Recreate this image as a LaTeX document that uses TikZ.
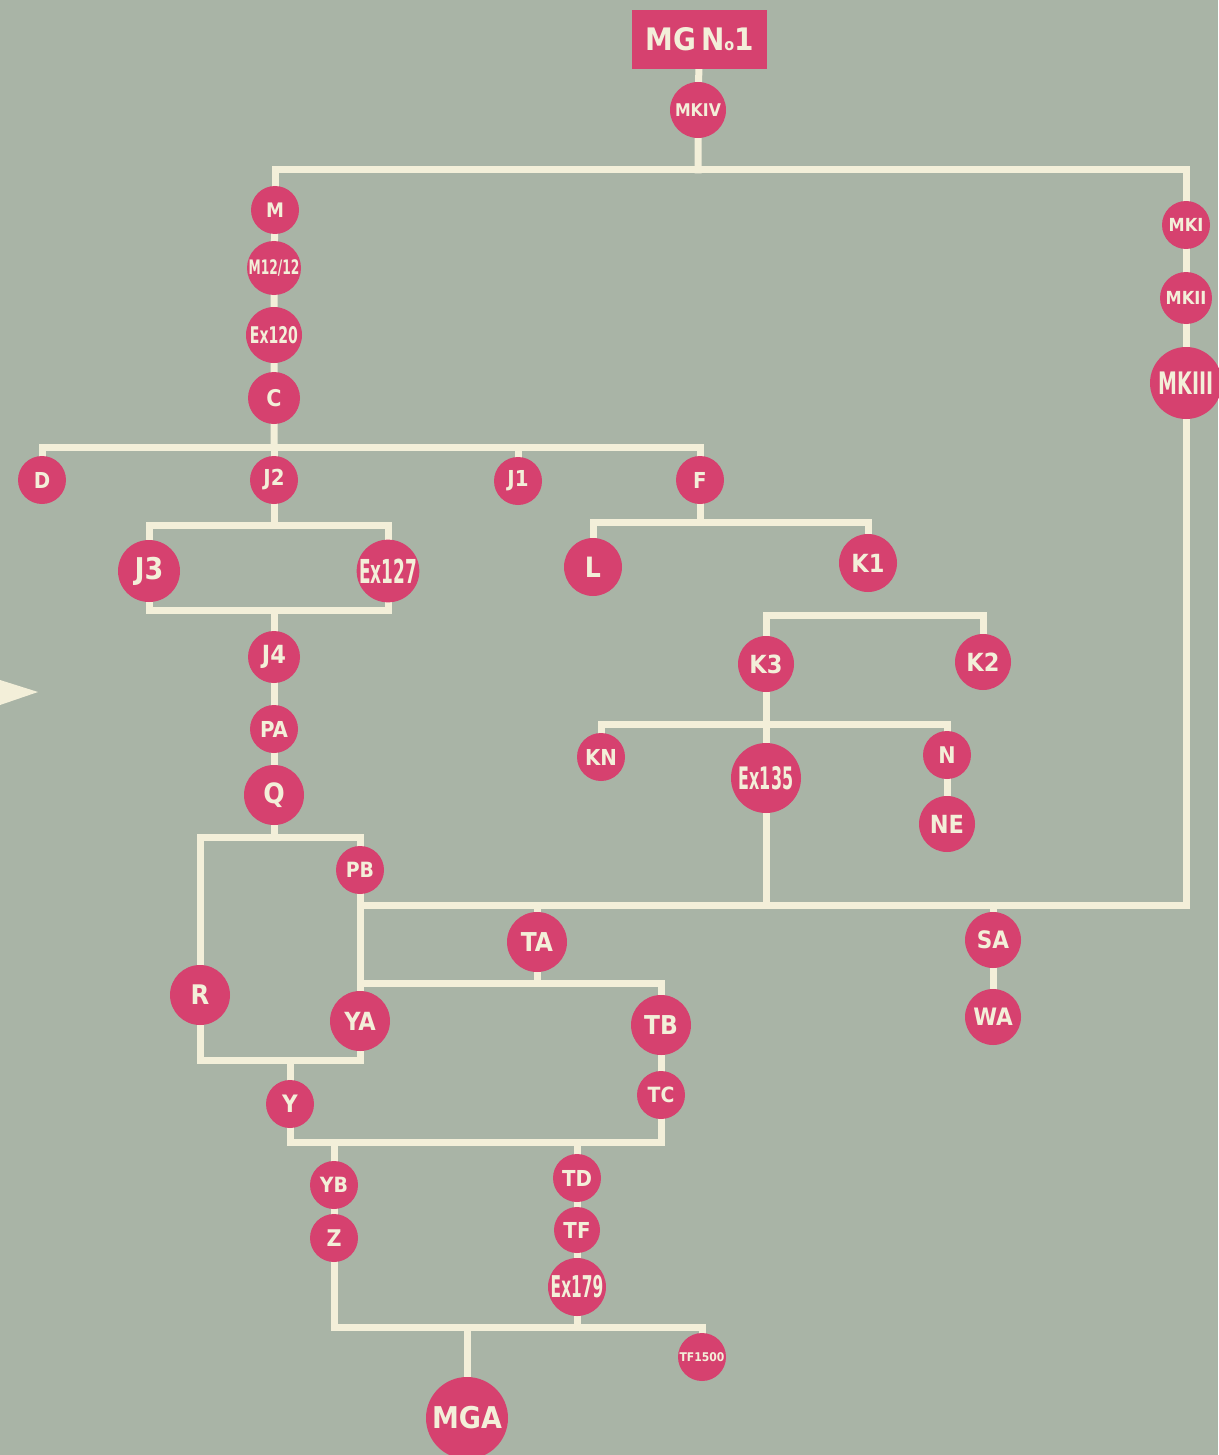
\documentclass[tikz,border=0pt]{standalone}
\usepackage{fontspec}
\newfontfamily\lbl{DejaVu Sans Condensed}[BoldFont={DejaVu Sans Condensed Bold}]
\newfontfamily\lblb{DejaVu Sans Condensed}[BoldFont={DejaVu Sans Condensed Bold}, BoldFeatures={FakeStretch=0.68}]
\newfontfamily\lblc{DejaVu Sans Condensed}[BoldFont={DejaVu Sans Condensed Bold}, BoldFeatures={FakeStretch=0.57}]
\newcommand\fz[1]{\fontsize{#1}{#1}\selectfont}
\definecolor{bgc}{HTML}{A9B4A6}
\definecolor{pinkc}{HTML}{D6416F}
\definecolor{creamc}{HTML}{F3EFD9}
\pgfdeclarelayer{bgfill}
\pgfdeclarelayer{wires}
\pgfsetlayers{bgfill,wires,main}
\begin{document}
\begin{tikzpicture}[x=1pt,y=-1pt,
  wire/.style={draw=creamc, line width=7pt, line join=miter, line cap=rect},
  nd/.style={circle, fill=pinkc, text=creamc, inner sep=0pt, minimum size=#1},
  nd/.default=48,
  tn/.style={font=\lbl\bfseries\fz{#1}},
  tb/.style={font=\lblb\bfseries\fz{#1}},
  tx/.style={font=\lblc\bfseries\fz{#1}}]
\useasboundingbox (0,0) rectangle (1218,1455);
\begin{pgfonlayer}{bgfill}
\fill[bgc] (0,0) rectangle (1218,1455);
\fill[creamc] (0,680) -- (38,692) -- (0,705) -- cycle;
\end{pgfonlayer}
% nodes
\node[rectangle, fill=pinkc, text=creamc, minimum width=135, minimum height=59, inner sep=0pt, tn=31] (mg) at (699.5,39.5) {MG\,N{\fz{16}o}1};
\node[nd=56, tn=17.5] (mkiv) at (698,110) {MKIV};
\node[nd=48, tn=20] (m) at (275,210) {M};
\node[nd=54, tb=20] (m12) at (274,268) {M12/12};
\node[nd=56, tb=23] (ex120) at (274,335) {Ex120};
\node[nd=52, tn=23] (c) at (274,398) {C};
\node[nd=48, tn=22] (d) at (42,480) {D};
\node[nd=48, tn=22] (j2) at (274,480) {J2};
\node[nd=48, tn=22] (ja) at (518,481) {J1};
\node[nd=48, tn=22] (f) at (700,480) {F};
\node[nd=62, tn=30] (j3) at (149,571) {J3};
\node[nd=62, tx=33] (ex127) at (388,571) {Ex127};
\node[nd=52, tn=25] (j4) at (274,657) {J4};
\node[nd=48, tn=22] (pa) at (274,729) {PA};
\node[nd=60, tn=28] (q) at (274,795) {Q};
\node[nd=48, tn=21] (pb) at (360,870) {PB};
\node[nd=60, tn=27] (r) at (200,995) {R};
\node[nd=60, tn=25] (ya) at (360,1021) {YA};
\node[nd=60, tn=26] (ta) at (537,942) {TA};
\node[nd=60, tn=26] (tb) at (661,1025) {TB};
\node[nd=48, tn=21] (tc) at (661,1095) {TC};
\node[nd=48, tn=24] (y) at (290,1104) {Y};
\node[nd=48, tn=21] (yb) at (334,1185) {YB};
\node[nd=48, tn=23] (z) at (334,1238) {Z};
\node[nd=48, tn=22] (td) at (577,1178) {TD};
\node[nd=46, tn=22] (tf) at (577,1230) {TF};
\node[nd=58, tx=30] (ex179) at (577,1287) {Ex179};
\node[nd=82, tn=30] (mga) at (467,1418) {MGA};
\node[nd=48, tn=12] (tf1500) at (702,1357) {TF1500};
\node[nd=58, tn=28] (l) at (593,567) {L};
\node[nd=58, tn=25] (ka) at (868,563) {K1};
\node[nd=56, tn=25] (k3) at (766,664) {K3};
\node[nd=56, tn=25] (k2) at (983,662) {K2};
\node[nd=48, tn=22] (kn) at (601,757) {KN};
\node[nd=70, tx=31] (ex135) at (766,778) {Ex135};
\node[nd=48, tn=23] (n) at (947,755) {N};
\node[nd=56, tn=25] (ne) at (947,824) {NE};
\node[nd=56, tn=24] (sa) at (993,940) {SA};
\node[nd=56, tn=24] (wa) at (993,1017) {WA};
\node[nd=48, tn=18] (mki) at (1186,225) {MKI};
\node[nd=52, tn=18] (mkii) at (1186,298) {MKII};
\node[nd=72, tb=31] (mkiii) at (1186,383) {MKIII};
% junctions
\coordinate (jtop) at (698,170);
\coordinate (jc) at (274,447);
\coordinate (jj) at (274,525);
\coordinate (jk) at (274,610);
\coordinate (jq) at (274,837);
\coordinate (jf) at (700,522);
\coordinate (kt) at (870,615);
\coordinate (kj) at (766,724);
\coordinate (cR) at (1186,905);
\coordinate (cL) at (360,905);
\coordinate (jt) at (360,983);
\coordinate (jy) at (290,1060);
\coordinate (jz) at (334,1142);
\coordinate (jm) at (467,1327);
\begin{pgfonlayer}{wires}
\draw[wire] (mg.center) -- (mkiv.center) -- (jtop);
\draw[wire] (m.center) |- (jtop) -| (mki.center);
\draw[wire] (mki.center) -- (mkii.center) -- (mkiii.center) -- (cR) -- (cL);
\draw[wire] (m.center) -- (m12.center) -- (ex120.center) -- (c.center) -- (jc);
\draw[wire] (d.center) |- (jc) -| (f.center);
\draw[wire] (ja.center) -- (ja |- jc);
\draw[wire] (jc) -- (j2.center) -- (jj);
\draw[wire] (j3.center) |- (jj) -| (ex127.center);
\draw[wire] (j3.center) |- (jk) -| (ex127.center);
\draw[wire] (jk) -- (j4.center) -- (pa.center) -- (q.center) -- (jq);
\draw[wire] (r.center) |- (jq) -| (pb.center);
\draw[wire] (pb.center) -- (ya.center);
\draw[wire] (r.center) |- (jy) -| (ya.center);
\draw[wire] (ta.center) -- (ta |- cL);
\draw[wire] (ta.center) -- (ta |- jt);
\draw[wire] (jt) -| (tb.center);
\draw[wire] (tb.center) -- (tc.center);
\draw[wire] (sa.center) -- (sa |- cR);
\draw[wire] (sa.center) -- (wa.center);
\draw[wire] (jy) -- (y.center);
\draw[wire] (y.center) |- (jz) -| (tc.center);
\draw[wire] (jz) -- (yb.center) -- (z.center) |- (jm) -| (tf1500.center);
\draw[wire] (jm) -- (mga.center);
\draw[wire] (td.center) -- (td |- jz);
\draw[wire] (td.center) -- (tf.center) -- (ex179.center) -- (ex179 |- jm);
\draw[wire] (f.center) -- (jf);
\draw[wire] (l.center) |- (jf) -| (ka.center);
\draw[wire] (k3.center) |- (kt) -| (k2.center);
\draw[wire] (kn.center) |- (kj) -| (n.center);
\draw[wire] (k3.center) -- (ex135.center) -- (ex135 |- cR);
\draw[wire] (n.center) -- (ne.center);
\end{pgfonlayer}
\end{tikzpicture}
\end{document}
